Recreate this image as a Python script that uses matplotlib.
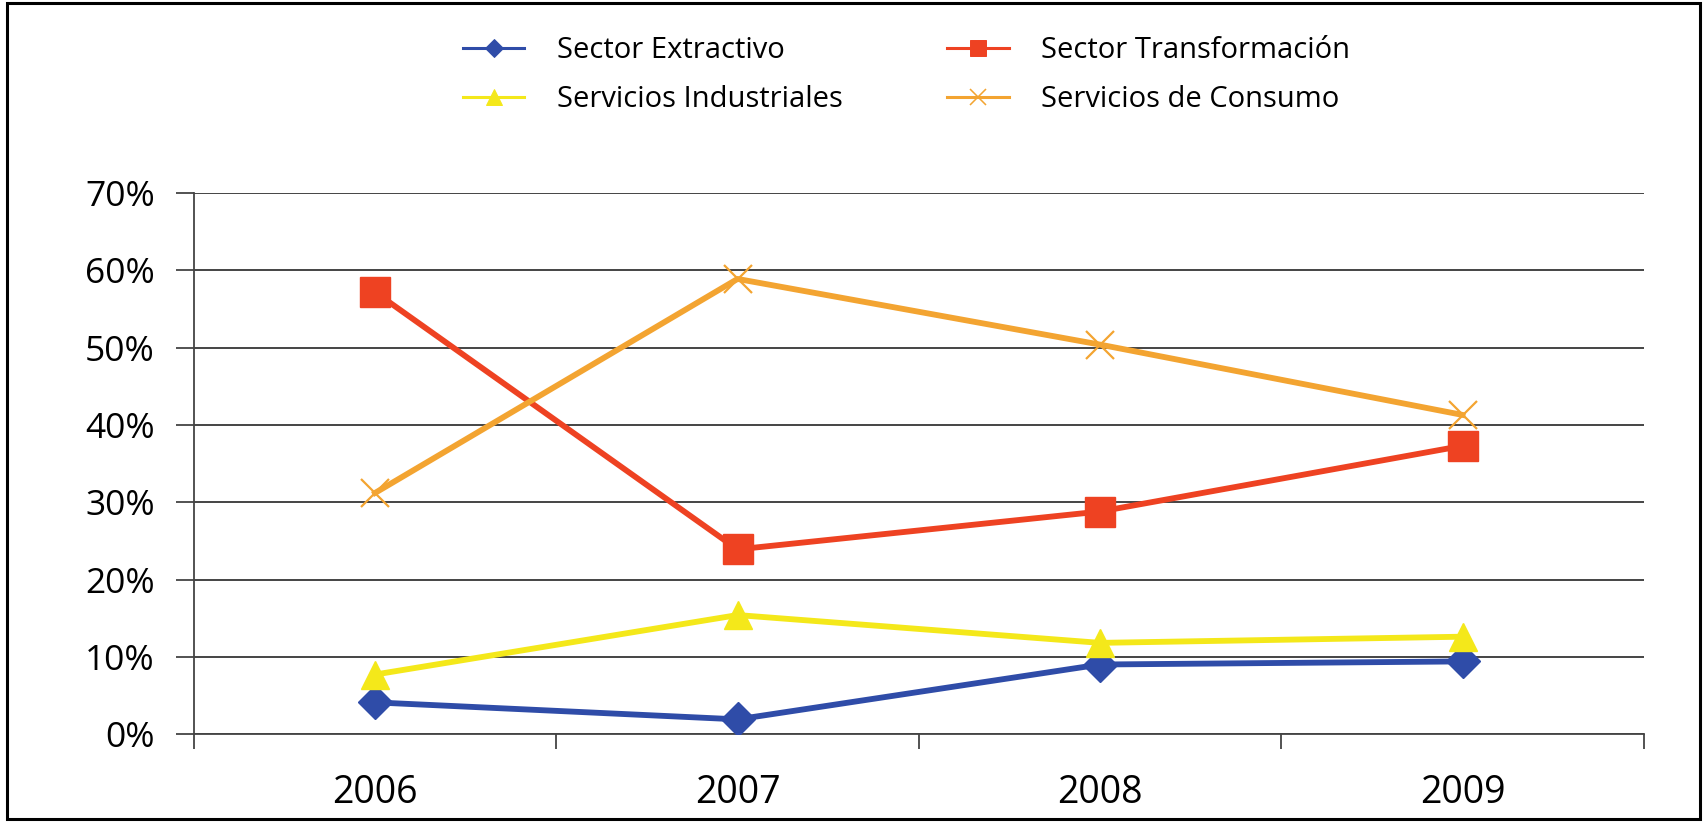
import matplotlib

matplotlib.use("Agg")
import matplotlib.pyplot as plt
from matplotlib.lines import Line2D
from matplotlib.patches import Rectangle
from matplotlib.ticker import FixedLocator, PercentFormatter

plt.rcParams["font.family"] = ["Open Sans", "DejaVu Sans"]

years = ["2006", "2007", "2008", "2009"]
extractivo = [4.1, 1.9, 9.0, 9.4]
transformacion = [57.2, 23.9, 28.8, 37.3]
industriales = [7.7, 15.4, 11.8, 12.6]
consumo = [31.2, 58.9, 50.4, 41.3]

series = [
    ("Sector Extractivo", extractivo, "#2f4ca8", "D", 17, 1),
    ("Servicios Industriales", industriales, "#f4e81a", "^", 20, 1),
    ("Sector Transformación", transformacion, "#ee4222", "s", 21, 1),
    ("Servicios de Consumo", consumo, "#f3a431", "x", 20, 1.6),
]

fig = plt.figure(figsize=(17.07, 8.22), dpi=100)
ax = fig.add_axes([0.1135, 0.107, 0.8495, 0.658])

x = list(range(len(years)))
handles = []
for name, vals, color, marker, ms, mew in series:
    ax.plot(x, vals, color=color, linewidth=4.2, marker=marker, markersize=ms,
            markeredgewidth=mew, markeredgecolor=color, zorder=3)
    handles.append(Line2D([], [], color=color, linewidth=2.2, marker=marker,
                          markersize=ms * 0.55, markeredgewidth=mew * 0.7,
                          markeredgecolor=color, label=name))

ax.set_xlim(-0.5, len(years) - 0.5)
ax.set_ylim(0, 70)
ax.set_yticks(range(0, 71, 10))
ax.yaxis.set_major_formatter(PercentFormatter(decimals=0))
ax.grid(axis="y", color="#444444", linewidth=1.4)
ax.set_axisbelow(True)

ax.xaxis.set_major_locator(FixedLocator([i - 0.5 for i in range(len(years) + 1)]))
ax.xaxis.set_minor_locator(FixedLocator(x))
ax.set_xticklabels([], minor=False)
ax.set_xticklabels(years, minor=True)
ax.tick_params(axis="x", which="major", length=11, width=1.3, color="#444444")
ax.tick_params(axis="x", which="minor", length=0, pad=29, labelsize=27)
ax.tick_params(axis="y", length=13, width=1.3, color="#444444", pad=15, labelsize=25.5)

for side in ["top", "right"]:
    ax.spines[side].set_visible(False)
for side in ["left", "bottom"]:
    ax.spines[side].set_color("#444444")
    ax.spines[side].set_linewidth(1.3)

fig.legend(handles=handles, ncol=2, loc="upper left", bbox_to_anchor=(0.256, 0.988),
           frameon=False, fontsize=21, handlelength=2.1, handletextpad=1.1,
           columnspacing=3.6, labelspacing=0.69)

fig.patches.append(Rectangle((0.004, 0.004), 0.992, 0.992, transform=fig.transFigure,
                             fill=False, edgecolor="black", linewidth=2.2))

fig.savefig("out.png", dpi=100)
